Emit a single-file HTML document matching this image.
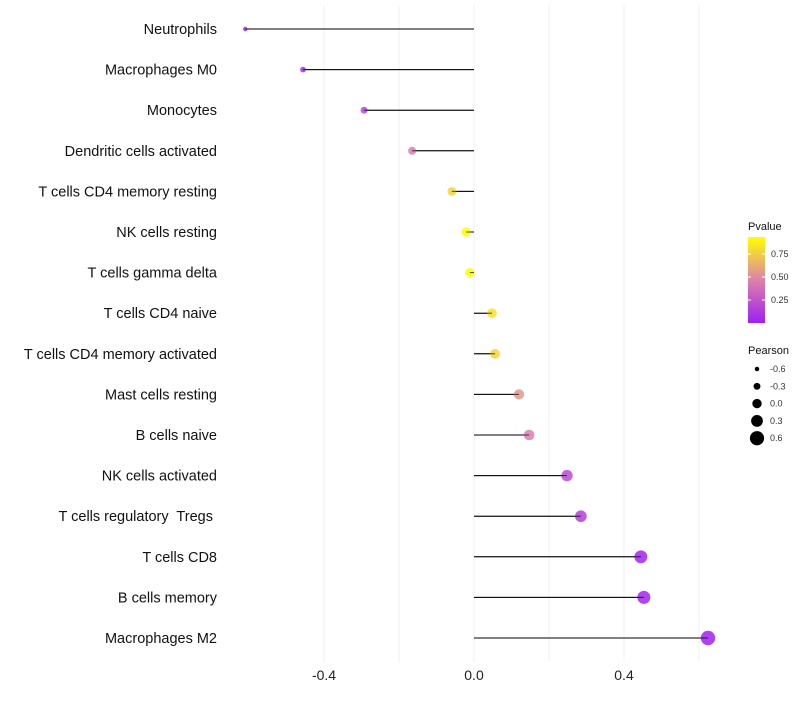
<!DOCTYPE html>
<html><head><meta charset="utf-8"><style>
body{margin:0;background:#fff;font-family:"Liberation Sans",sans-serif}
</style></head><body>
<svg id="chart" width="800" height="700" xmlns="http://www.w3.org/2000/svg"></svg>
<script>
const categories=["Neutrophils","Macrophages M0","Monocytes","Dendritic cells activated","T cells CD4 memory resting","NK cells resting","T cells gamma delta","T cells CD4 naive","T cells CD4 memory activated","Mast cells resting","B cells naive","NK cells activated","T cells regulatory  Tregs ","T cells CD8","B cells memory","Macrophages M2"];
const pearson=[-0.61,-0.456,-0.293,-0.165,-0.059,-0.021,-0.011,0.048,0.056,0.12,0.147,0.248,0.285,0.445,0.453,0.624];
const pvalues=[0.01,0.05,0.18,0.45,0.78,0.92,0.93,0.82,0.78,0.55,0.45,0.2,0.15,0.02,0.02,0.01];
const xTicks=[-0.4,0.0,0.4];
const xGrid=[-0.4,-0.2,0,0.2,0.4,0.6];
const pTicks=[0.25,0.5,0.75];
const sizeLegend=[-0.6,-0.3,0.0,0.3,0.6];

const NS="http://www.w3.org/2000/svg";
const svg=document.getElementById('chart');
const xS=v=>474+v*375;
const yS=i=>29+i*40.6;
const rS=v=>2.2+(v+0.61)/1.234*5;
const pMax=0.935;
function lerp(a,b,t){return a.map((x,i)=>Math.round(x+(b[i]-x)*t));}
function col(p){const t=Math.max(0,Math.min(1,p/pMax));const A=[160,32,240],B=[220,130,170],C=[255,255,0];
 const c=t<0.5?lerp(A,B,t*2):lerp(B,C,(t-0.5)*2);return `rgb(${c.join(',')})`;}
function el(tag,attrs,parent){const e=document.createElementNS(NS,tag);for(const k in attrs)e.setAttribute(k,attrs[k]);(parent||svg).appendChild(e);return e;}

xGrid.forEach(v=>{const g=el('line',{x1:xS(v),x2:xS(v),y1:5,y2:662,stroke:'#f0f0f0','stroke-width':1});

});
xTicks.forEach(v=>{const t=el('text',{x:xS(v),y:680,'text-anchor':'middle','font-size':14,fill:'#222'});t.textContent=v.toFixed(1);

});
categories.forEach((c,i)=>{
 const t=el('text',{x:217,y:yS(i)+5,'text-anchor':'end','font-size':14.5,fill:'#111',style:'white-space:pre'});t.textContent=c;
 
 
 const l=el('line',{x1:xS(0),x2:xS(pearson[i]),y1:yS(i),y2:yS(i),stroke:'#000','stroke-width':1});
 
 
 const d=el('circle',{cx:xS(pearson[i]),cy:yS(i),r:rS(pearson[i]),fill:col(pvalues[i]),'fill-opacity':0.85});
 
 
 const l2=el('line',{x1:xS(0),x2:xS(pearson[i]),y1:yS(i),y2:yS(i),stroke:'#000','stroke-width':1,'stroke-opacity':0.6});
 
 
});
const lt=el('text',{x:748,y:230,'font-size':11,fill:'#111'});lt.textContent='Pvalue';


const defs=el('defs',{});const lg=el('linearGradient',{id:'pg',x1:0,y1:1,x2:0,y2:0},defs);
[[0,col(0)],[0.5,col(pMax/2)],[1,col(pMax)]].forEach(s=>el('stop',{offset:s[0],'stop-color':s[1]},lg));
const bar=el('rect',{x:748,y:237,width:17,height:86,fill:'url(#pg)'});


pTicks.forEach(p=>{const y=323-p/pMax*86;
 el('line',{x1:748,x2:751,y1:y,y2:y,stroke:'#fff'});el('line',{x1:762,x2:765,y1:y,y2:y,stroke:'#fff'});
 const t=el('text',{x:771,y:y+3,'font-size':9,fill:'#333'});t.textContent=p.toFixed(2);
 
 });
const st=el('text',{x:748,y:354,'font-size':11,fill:'#111'});st.textContent='Pearson';


sizeLegend.forEach((v,i)=>{const y=369+i*17.3;
 const c=el('circle',{cx:757,cy:y,r:rS(v),fill:'#000'});
 
 
 const t=el('text',{x:770,y:y+3,'font-size':9,fill:'#333'});t.textContent=v.toFixed(1);
 
 });
</script>
</body></html>
